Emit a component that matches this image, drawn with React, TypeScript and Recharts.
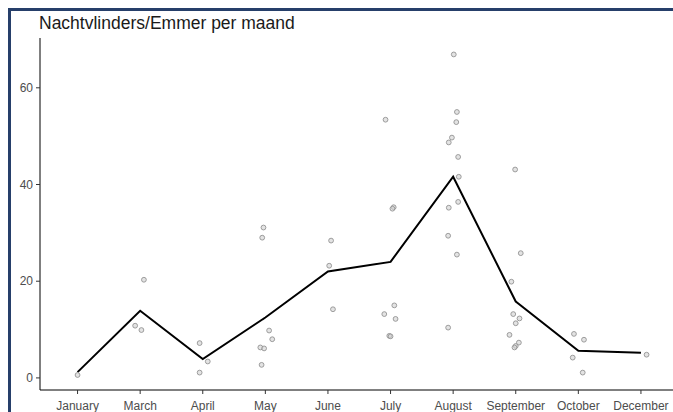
import { ComposedChart, Line, Scatter, XAxis, YAxis } from 'recharts'

const months = ['January', 'March', 'April', 'May', 'June', 'July', 'August', 'September', 'October', 'December']
const monthlyMean = [1.2, 13.9, 3.9, 12.5, 22.0, 24.0, 41.6, 15.8, 5.6, 5.2]
const yTicks = [0, 20, 40, 60]

// individual catches: month index, horizontal jitter (in category units), moths per bucket
const catchMonth = [
  0,
  1, 1, 1,
  2, 2, 2,
  3, 3, 3, 3, 3, 3, 3,
  4, 4, 4,
  5, 5, 5, 5, 5, 5, 5, 5,
  6, 6, 6, 6, 6, 6, 6, 6, 6, 6, 6, 6,
  7, 7, 7, 7, 7, 7, 7, 7, 7, 7,
  8, 8, 8, 8,
  9,
]
const catchJitter = [
  0,
  0.06, -0.08, 0.02,
  -0.05, -0.05, 0.08,
  -0.08, -0.02, -0.06, 0.06, 0.11, -0.03, -0.05,
  0.05, 0.02, 0.08,
  -0.08, 0.05, 0.03, -0.1, 0.06, 0.08, -0.02, 0,
  0.01, 0.06, 0.05, -0.02, -0.07, 0.08, 0.09, 0.08, -0.07, -0.08, 0.06, -0.08,
  -0.01, 0.08, -0.07, -0.04, 0.06, 0, -0.1, 0.05, 0, -0.02,
  -0.07, 0.09, -0.09, 0.07,
  0.09,
]
const catchValue = [
  0.6,
  20.3, 10.8, 9.9,
  7.2, 1.1, 3.4,
  6.3, 6.1, 2.7, 9.8, 8.0, 31.1, 29.0,
  28.4, 23.2, 14.2,
  53.4, 35.3, 35.0, 13.2, 15.0, 12.2, 8.7, 8.6,
  66.9, 55.0, 52.9, 49.7, 48.7, 45.7, 41.6, 36.4, 35.2, 29.4, 25.5, 10.4,
  43.1, 25.8, 19.9, 13.2, 12.3, 11.3, 8.9, 7.3, 6.6, 6.3,
  9.1, 7.9, 4.2, 1.1,
  4.8,
]

const meanData = monthlyMean.map((mean, i) => ({ x: i, mean }))
const catchData = catchValue.map((value, i) => ({ x: catchMonth[i] + catchJitter[i], value }))

const Dot = (props: any) => {
  const { cx, cy } = props
  return <circle cx={cx} cy={cy} r={2.4} fill="#d0d0d0" fillOpacity={0.6} stroke="#939393" strokeWidth={0.9} />
}

const tickStyle = { fill: '#4d4d4d', fontSize: 12, fontFamily: 'Liberation Sans, Arial, sans-serif' }

export default function App() {
  return (
    <>
      <style>{'html, body { overflow: hidden; }'}</style>
      <div
        style={{
          position: 'fixed',
          left: 8,
          top: 8,
          width: 700,
          height: 404,
          boxSizing: 'border-box',
          borderTop: '3px solid #263f6a',
          borderLeft: '3px solid #263f6a',
          background: '#fff',
        }}
      >
        <div
          style={{
            position: 'absolute',
            left: 28,
            top: 2,
            fontFamily: 'Liberation Sans, Arial, sans-serif',
            fontSize: 17.5,
            color: '#1a1a1a',
            whiteSpace: 'nowrap',
          }}
        >
          Nachtvlinders/Emmer per maand
        </div>
        <ComposedChart width={680} height={401} margin={{ top: 27, right: 12.5, left: 0, bottom: 0 }}>
          <XAxis
            dataKey="x"
            type="number"
            domain={[-0.6, 9.6]}
            ticks={months.map((_, i) => i)}
            tickFormatter={(i) => months[i]}
            interval={0}
            height={22}
            tick={tickStyle}
            tickSize={4}
            tickMargin={7}
            stroke="#000"
            tickLine={{ stroke: '#333' }}
            allowDataOverflow
          />
          <YAxis
            type="number"
            domain={[-2.5, 70.3]}
            ticks={yTicks}
            width={29}
            tick={tickStyle}
            tickSize={4}
            tickMargin={3}
            stroke="#000"
            tickLine={{ stroke: '#333' }}
            allowDataOverflow
          />
          <Scatter data={catchData} dataKey="value" shape={<Dot />} isAnimationActive={false} />
          <Line
            data={meanData}
            dataKey="mean"
            type="linear"
            stroke="#000"
            strokeWidth={2}
            dot={false}
            activeDot={false}
            isAnimationActive={false}
          />
        </ComposedChart>
      </div>
    </>
  )
}
